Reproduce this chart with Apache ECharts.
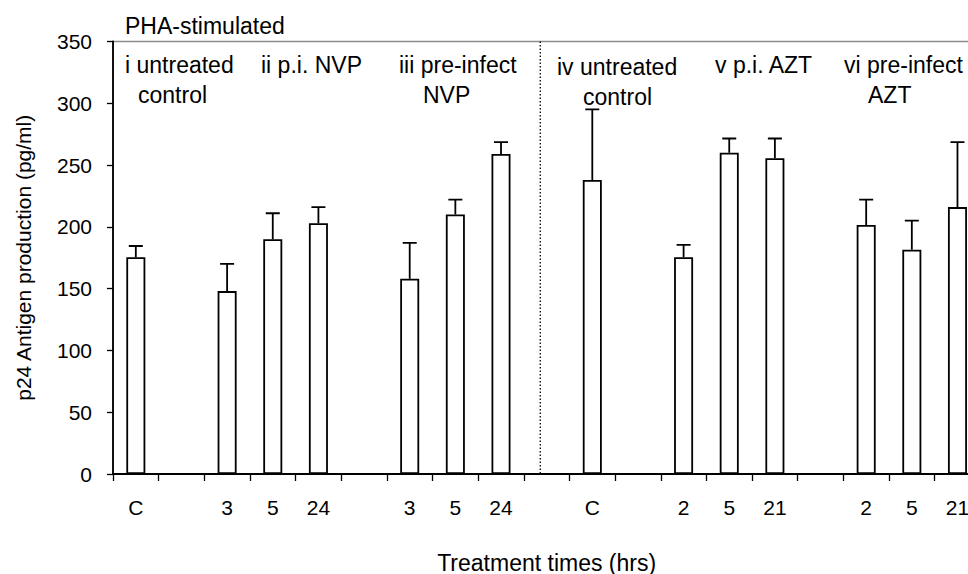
<!DOCTYPE html>
<html>
<head>
<meta charset="utf-8">
<script src="https://cdn.jsdelivr.net/npm/echarts@6/dist/echarts.min.js"></script>
<style>
  html, body { margin: 0; padding: 0; background: #fff; }
  #chart { width: 968px; height: 574px; }
</style>
</head>
<body>
<div id="chart"></div>
<script>
// ---- data ----
const categories = ['C', '', '3', '5', '24', '', '3', '5', '24', '', 'C', '', '2', '5', '21', '', '2', '5', '21'];
const p24Values  = [175.5, null, 148, 190, 203, null, 158, 210, 259, null, 238, null, 175.5, 260, 255.5, null, 201.5, 181.5, 216];
const p24Errors  = [9, null, 22, 21, 13, null, 29, 12, 9.5, null, 57, null, 10, 11.5, 16, null, 20.5, 23.5, 52.5];
const yTicks = { min: 0, max: 350, interval: 50 };
const dividerPosition = 8.86; // between the NVP and AZT panels, in category units
const panelLabels = [
  { text: 'PHA-stimulated', x: 125, y: 26 },
  { text: 'i untreated', x: 125, y: 65 },
  { text: 'control', x: 138, y: 95 },
  { text: 'ii p.i. NVP', x: 261, y: 65 },
  { text: 'iii pre-infect', x: 399, y: 65 },
  { text: 'NVP', x: 423, y: 95 },
  { text: 'iv untreated', x: 557, y: 67 },
  { text: 'control', x: 583, y: 97 },
  { text: 'v p.i. AZT', x: 715, y: 65 },
  { text: 'vi pre-infect', x: 844, y: 65 },
  { text: 'AZT', x: 868, y: 95 }
];

const FONT = "'Liberation Sans', Arial, sans-serif";

const errData = [];
p24Values.forEach((v, i) => {
  if (v !== null && p24Errors[i] !== null) errData.push([i, v, v + p24Errors[i]]);
});

const chart = echarts.init(document.getElementById('chart'), null, { renderer: 'svg' });

const GRID = { left: 113, top: 41.5, bottom: 100, right: -12.3 };

chart.setOption({
  animation: false,
  backgroundColor: '#fff',
  textStyle: { fontFamily: FONT, color: '#000' },
  grid: Object.assign({
    show: true, borderColor: '#8c8c8c', borderWidth: 1.5, backgroundColor: 'transparent',
    containLabel: false, outerBoundsMode: 'none'
  }, GRID),
  xAxis: [
    {
      type: 'category',
      data: categories,
      boundaryGap: true,
      axisLine: { onZero: false, lineStyle: { color: '#000', width: 1.8 } },
      axisTick: { show: true, length: 7, lineStyle: { color: '#000', width: 1.3 } },
      axisLabel: { color: '#000', fontSize: 21, fontFamily: FONT, margin: 23, interval: 0 },
      name: 'Treatment times (hrs)',
      nameLocation: 'middle',
      nameGap: 77,
      nameTextStyle: { color: '#000', fontSize: 23, fontFamily: FONT },
      splitLine: { show: false }
    },
    {
      type: 'value',
      min: -0.5, max: categories.length - 0.5,
      show: false,
      axisLine: { onZero: false }
    }
  ],
  yAxis: {
    type: 'value',
    min: yTicks.min, max: yTicks.max, interval: yTicks.interval,
    axisLine: { show: true, onZero: false, lineStyle: { color: '#000', width: 1.8 } },
    axisTick: { show: true, length: 6, lineStyle: { color: '#000', width: 1.3 } },
    axisLabel: { color: '#000', fontSize: 21, fontFamily: FONT, margin: 21 },
    splitLine: { show: false },
    name: 'p24 Antigen production (pg/ml)',
    nameLocation: 'middle',
    nameGap: 79,
    nameTextStyle: { color: '#000', fontSize: 21, fontFamily: FONT }
  },
  series: [
    {
      type: 'bar',
      data: p24Values,
      barWidth: 19,
      itemStyle: { color: '#fff', borderColor: '#000', borderWidth: 1.8 },
      z: 2
    },
    {
      type: 'custom',
      data: errData,
      encode: { x: 0, y: [1, 2] },
      z: 3,
      renderItem: function (params, api) {
        const base = api.coord([api.value(0), api.value(1)]);
        const top = api.coord([api.value(0), api.value(2)]);
        const hw = 7;
        return {
          type: 'polyline',
          shape: { points: [[base[0], base[1]], [top[0], top[1]], [top[0] - hw, top[1]], [top[0] + hw, top[1]]] },
          style: { stroke: '#000', lineWidth: 1.8, fill: null }
        };
      }
    }
  ],
  graphic: panelLabels.map(l => ({
    type: 'text',
    x: l.x, y: l.y,
    silent: true,
    style: {
      text: l.text,
      fill: '#000',
      font: '23px ' + FONT,
      textAlign: 'left',
      verticalAlign: 'middle'
    }
  }))
});

// dotted divider between the two drug panels, placed through the hidden value axis
const dx = chart.convertToPixel({ xAxisIndex: 1 }, dividerPosition);
const y0 = chart.convertToPixel({ yAxisIndex: 0 }, yTicks.min);
const y1 = chart.convertToPixel({ yAxisIndex: 0 }, yTicks.max);
chart.setOption({
  graphic: [{
    type: 'line',
    id: 'divider',
    silent: true,
    z: 1,
    shape: { x1: dx, y1: y1, x2: dx, y2: y0 },
    style: { stroke: '#000', lineWidth: 1.3, lineDash: [1.5, 2] }
  }]
});
</script>
</body>
</html>
